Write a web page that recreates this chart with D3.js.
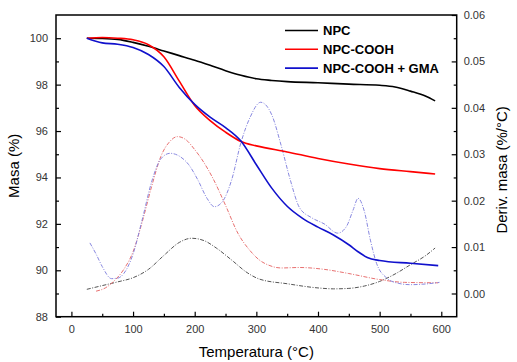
<!DOCTYPE html>
<html>
<head>
<meta charset="utf-8">
<script src="https://cdn.jsdelivr.net/npm/d3@7"></script>
<style>
  body { margin: 0; background: #fff; }
  svg { font-family: "Liberation Sans", Arial, sans-serif; }
</style>
</head>
<body>
<div id="chart"></div>
<script>
// Mass loss curves (temperature °C, mass %)
const npcMass = [[25,100],[50,99.99],[75,99.95],[100,99.82],[125,99.65],[150,99.45],[175,99.25],[200,99.05],[225,98.83],[250,98.6],[275,98.4],[300,98.25],[325,98.18],[350,98.13],[400,98.08],[450,98.02],[500,97.97],[525,97.9],[550,97.72],[575,97.5],[590,97.3]];
const coohMass = [[25,100],[50,100.03],[75,100.0],[100,99.93],[125,99.72],[150,99.2],[175,98.15],[200,97.1],[225,96.45],[250,95.95],[275,95.55],[300,95.36],[350,95.1],[400,94.82],[450,94.58],[500,94.38],[550,94.25],[590,94.15]];
const gmaMass = [[25,100],[50,99.8],[75,99.74],[100,99.6],[125,99.3],[150,98.78],[175,97.88],[200,97.15],[225,96.6],[250,96.15],[275,95.57],[300,94.55],[325,93.54],[350,92.76],[375,92.24],[400,91.86],[425,91.52],[450,91.1],[465,90.8],[480,90.55],[500,90.42],[550,90.3],[595,90.2]];

// Derivative curves (temperature °C, %/°C)
const npcDeriv = [[25,0.0009],[50,0.0017],[75,0.0025],[100,0.0034],[125,0.0052],[150,0.0082],[175,0.011],[195,0.0119],[215,0.0114],[235,0.0098],[260,0.0072],[285,0.0045],[305,0.0031],[350,0.0021],[400,0.0012],[425,0.001],[450,0.0011],[475,0.0016],[500,0.0026],[525,0.0042],[550,0.0062],[575,0.0082],[590,0.0098]];
const coohDeriv = [[40,0.0005],[55,0.0012],[70,0.0028],[85,0.0052],[100,0.009],[115,0.0155],[130,0.023],[145,0.0295],[160,0.0328],[172,0.0338],[185,0.0332],[200,0.031],[215,0.0282],[230,0.0247],[250,0.019],[270,0.013],[290,0.0092],[305,0.0072],[320,0.0061],[340,0.0055],[370,0.0056],[410,0.0052],[450,0.0043],[500,0.003],[540,0.0024],[595,0.0023]];
const gmaDeriv = [[30,0.0109],[40,0.0085],[50,0.0058],[65,0.0032],[75,0.0033],[85,0.0043],[100,0.0085],[115,0.016],[130,0.024],[145,0.029],[160,0.0302],[175,0.0296],[190,0.0278],[205,0.0245],[220,0.0205],[232,0.0187],[245,0.0198],[260,0.0245],[275,0.0325],[290,0.038],[307,0.0412],[325,0.0385],[340,0.032],[355,0.0245],[370,0.0185],[390,0.0163],[410,0.015],[432,0.013],[446,0.0144],[457,0.018],[465,0.0205],[475,0.0178],[485,0.0115],[495,0.0065],[510,0.0035],[530,0.0022],[550,0.0019],[570,0.002],[597,0.0024]];

const seriesNames = ["NPC", "NPC-COOH", "NPC-COOH + GMA"];
const xTicks = [0, 100, 200, 300, 400, 500, 600];
const leftTicks = [88, 90, 92, 94, 96, 98, 100];
const rightTicks = [0.00, 0.01, 0.02, 0.03, 0.04, 0.05, 0.06];

const width = 517, height = 362;
const plot = {left: 56, right: 456.7, top: 15, bottom: 316.7};

const svg = d3.select("#chart").append("svg")
    .attr("width", width)
    .attr("height", height);

const x = d3.scaleLinear().domain([-25, 625]).range([plot.left, plot.right]);
const yL = d3.scaleLinear().domain([88, 101]).range([plot.bottom, plot.top]);
const yR = d3.scaleLinear().domain([-0.005, 0.06]).range([plot.bottom, plot.top]);

const colors = ["#000000", "#ff0000", "#1010cc"];
const dashColors = ["#555555", "#e87070", "#8888e0"];

// Dashed derivative curves
const lineR = d3.line().x(d => x(d[0])).y(d => yR(d[1])).curve(d3.curveMonotoneX);
[npcDeriv, coohDeriv, gmaDeriv].forEach((s, i) => {
    svg.append("path")
        .datum(s)
        .attr("fill", "none")
        .attr("stroke", dashColors[i])
        .attr("stroke-width", 1)
        .attr("stroke-dasharray", "4,1.5,1,1.5")
        .attr("d", lineR);
});

// Solid mass curves
const lineL = d3.line().x(d => x(d[0])).y(d => yL(d[1])).curve(d3.curveMonotoneX);
[npcMass, coohMass, gmaMass].forEach((s, i) => {
    svg.append("path")
        .datum(s)
        .attr("fill", "none")
        .attr("stroke", colors[i])
        .attr("stroke-width", 1.6)
        .attr("d", lineL);
});

// Axes (ticks point inward)
function styleAxis(g) {
    g.select(".domain").remove();
    g.selectAll(".tick line").attr("stroke", "#000").attr("stroke-width", 1.2);
    g.selectAll(".tick text").attr("fill", "#333").attr("font-size", 11);
}

svg.append("g")
    .attr("transform", `translate(0,${plot.bottom})`)
    .call(d3.axisBottom(x).tickValues(xTicks).tickSize(-5).tickPadding(9))
    .call(styleAxis);
svg.append("g")
    .attr("transform", `translate(0,${plot.bottom})`)
    .call(d3.axisBottom(x).tickValues(d3.range(50, 601, 100)).tickSize(-3).tickFormat(""))
    .call(styleAxis);

svg.append("g")
    .attr("transform", `translate(${plot.left},0)`)
    .call(d3.axisLeft(yL).tickValues(leftTicks).tickSize(-5).tickPadding(8))
    .call(styleAxis);
svg.append("g")
    .attr("transform", `translate(${plot.left},0)`)
    .call(d3.axisLeft(yL).tickValues([89, 91, 93, 95, 97, 99]).tickSize(-3).tickFormat(""))
    .call(styleAxis);

svg.append("g")
    .attr("transform", `translate(${plot.right},0)`)
    .call(d3.axisRight(yR).tickValues(rightTicks).tickSize(-5).tickPadding(7).tickFormat(d3.format(".2f")))
    .call(styleAxis);
svg.append("g")
    .attr("transform", `translate(${plot.right},0)`)
    .call(d3.axisRight(yR).tickValues([0.005, 0.015, 0.025, 0.035, 0.045, 0.055]).tickSize(-3).tickFormat(""))
    .call(styleAxis);

// Frame
svg.append("rect")
    .attr("x", plot.left)
    .attr("y", plot.top)
    .attr("width", plot.right - plot.left)
    .attr("height", plot.bottom - plot.top)
    .attr("fill", "none")
    .attr("stroke", "#000")
    .attr("stroke-width", 1.5);

// Axis titles
svg.append("text")
    .attr("x", (plot.left + plot.right) / 2)
    .attr("y", 357)
    .attr("text-anchor", "middle")
    .attr("font-size", 15)
    .text("Temperatura (°C)");

svg.append("text")
    .attr("transform", `translate(19,${(plot.top + plot.bottom) / 2}) rotate(-90)`)
    .attr("text-anchor", "middle")
    .attr("font-size", 15)
    .text("Masa (%)");

svg.append("text")
    .attr("transform", `translate(496,${(plot.top + plot.bottom) / 2 + 4}) rotate(-90)`)
    .attr("text-anchor", "middle")
    .attr("dy", "0.7em")
    .attr("font-size", 15)
    .text("Deriv. masa (%/°C)");

// Legend
const legend = svg.append("g")
    .selectAll("g")
    .data(seriesNames)
    .join("g")
    .attr("transform", (d, i) => `translate(285,${30.5 + i * 18.8})`);

legend.append("line")
    .attr("x1", 0)
    .attr("x2", 33)
    .attr("stroke", (d, i) => colors[i])
    .attr("stroke-width", 1.6);

legend.append("text")
    .attr("x", 38)
    .attr("dy", "0.36em")
    .attr("font-size", 13)
    .attr("font-weight", "bold")
    .text(d => d);
</script>
</body>
</html>
